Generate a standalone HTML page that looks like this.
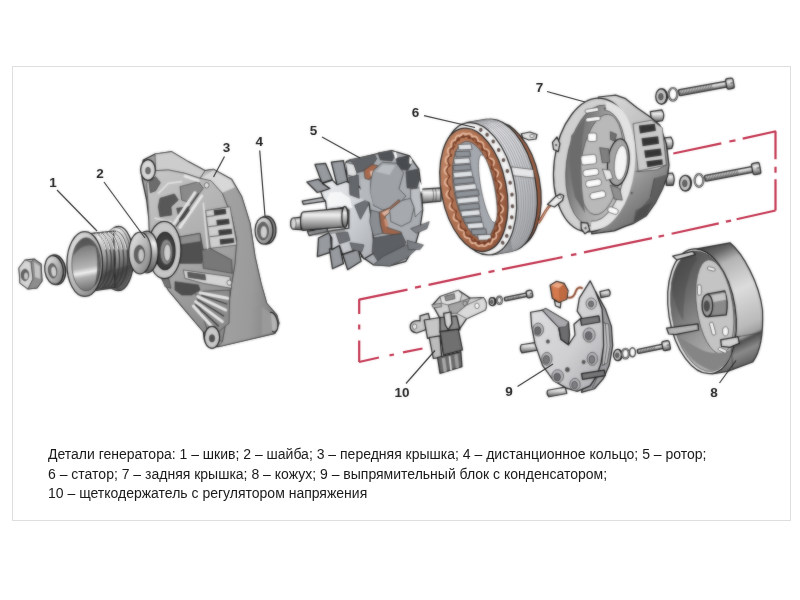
<!DOCTYPE html>
<html lang="ru">
<head>
<meta charset="utf-8">
<title>Детали генератора</title>
<style>
html,body{margin:0;padding:0;background:#fff;}
body{width:800px;height:600px;overflow:hidden;position:relative;font-family:"Liberation Sans",sans-serif;}
#frame{position:absolute;left:12px;top:66px;width:777px;height:453px;border:1px solid #dedede;background:#fff;}
#art{position:absolute;left:0;top:0;width:800px;height:600px;}
#cap{position:absolute;left:48px;top:445.2px;filter:blur(0.3px);width:720px;font-size:14px;line-height:19.6px;color:#1a1a1a;white-space:nowrap;}
.lb{font-family:"Liberation Sans",sans-serif;font-size:13.5px;font-weight:bold;fill:#1c1c1c;text-anchor:middle;}
.ld{stroke:#333;stroke-width:1.2;fill:none;}
.o{stroke:#202020;stroke-width:1.25;stroke-linejoin:round;}
.t{stroke:#3a3a3a;stroke-width:0.65;stroke-linejoin:round;}
.n{stroke:none;}
.z *{vector-effect:non-scaling-stroke;}
.red{stroke:#c43853;stroke-width:2.2;fill:none;}
</style>
</head>
<body>
<div id="frame"></div>
<svg id="art" viewBox="0 0 800 600" width="800" height="600">
<defs>
<filter id="soft" x="0" y="0" width="800" height="600" filterUnits="userSpaceOnUse" color-interpolation-filters="sRGB"><feGaussianBlur in="SourceGraphic" stdDeviation="0.8" result="b"/><feComposite in="SourceGraphic" in2="b" operator="arithmetic" k1="0" k2="0.45" k3="0.55" k4="0"/></filter>
<linearGradient id="gv" x1="0" y1="0" x2="0" y2="1"><stop offset="0" stop-color="#d8d8d8"/><stop offset="0.25" stop-color="#f2f2f2"/><stop offset="0.6" stop-color="#a8a8a8"/><stop offset="1" stop-color="#6e6e6e"/></linearGradient>
<linearGradient id="gh" x1="0" y1="0" x2="1" y2="0"><stop offset="0" stop-color="#e6e6e6"/><stop offset="0.5" stop-color="#b4b4b4"/><stop offset="1" stop-color="#808080"/></linearGradient>
<linearGradient id="gd" x1="0" y1="0" x2="1" y2="1"><stop offset="0" stop-color="#ededed"/><stop offset="0.5" stop-color="#b8b8b8"/><stop offset="1" stop-color="#7a7a7a"/></linearGradient>
<linearGradient id="gbore" x1="0" y1="0" x2="0" y2="1"><stop offset="0" stop-color="#5a5a5a"/><stop offset="0.45" stop-color="#8c8c8c"/><stop offset="0.62" stop-color="#e4e4e4"/><stop offset="0.8" stop-color="#a0a0a0"/><stop offset="1" stop-color="#787878"/></linearGradient>
<linearGradient id="gcyl" x1="0" y1="0" x2="0" y2="1"><stop offset="0" stop-color="#9a9a9a"/><stop offset="0.3" stop-color="#f0f0f0"/><stop offset="0.7" stop-color="#9c9c9c"/><stop offset="1" stop-color="#5c5c5c"/></linearGradient>

<filter id="soft2" x="0" y="0" width="800" height="600" filterUnits="userSpaceOnUse" color-interpolation-filters="sRGB"><feGaussianBlur in="SourceGraphic" stdDeviation="0.8" result="b"/><feComposite in="SourceGraphic" in2="b" operator="arithmetic" k1="0" k2="0.75" k3="0.25" k4="0"/></filter>

</defs>
<g filter="url(#soft)">

<!-- 10_left.svg -->
<!-- nut -->
<g>
<path class="o" fill="#b9b9b9" d="M19 268L25 260L34 259L41 264L42 281L37 288L28 289L20 283Z"/>
<path class="t" fill="#d6d6d6" d="M19 268L25 260L31 262L33 279L28 289L20 283Z"/>
<path class="t" fill="#8e8e8e" d="M31 262L34 259L41 264L42 281L37 288L28 289L33 279Z"/>
<path class="n" fill="#c4c4c4" d="M34 262L40 266L40.500 279L35 277Z"/>
<ellipse class="t" cx="25" cy="275" rx="3.800" ry="5.800" fill="#5e5e5e"/>
<ellipse class="n" cx="26" cy="276" rx="2" ry="3.600" fill="#c8c8c8"/>
</g>
<!-- washer -->
<g transform="rotate(-8 54.5 270)">
<ellipse class="o" cx="55.800" cy="270" rx="9.800" ry="15" fill="#7c7c7c"/>
<ellipse class="o" cx="54" cy="270" rx="9.200" ry="14.500" fill="url(#gd)"/>
<ellipse class="t" cx="52.500" cy="270.500" rx="4.200" ry="7.200" fill="#6a6a6a"/>
<ellipse class="n" cx="53.500" cy="271.500" rx="2.400" ry="5" fill="#d0d0d0"/>
</g>
<g class="z" transform="translate(60 220) scale(0.1375)">
<linearGradient id="plb" x1="0" y1="0" x2="0.35" y2="1"><stop offset="0" stop-color="#b8b8b8"/><stop offset="0.22" stop-color="#ededed"/><stop offset="0.55" stop-color="#a4a4a4"/><stop offset="0.85" stop-color="#4e4e4e"/><stop offset="1" stop-color="#6a6a6a"/></linearGradient>
<linearGradient id="plbore" x1="0" y1="0" x2="0.1" y2="1"><stop offset="0" stop-color="#5c5c5c"/><stop offset="0.3" stop-color="#8a8a8a"/><stop offset="0.6" stop-color="#b4b4b4"/><stop offset="0.7" stop-color="#efefef"/><stop offset="0.78" stop-color="#b0b0b0"/><stop offset="1" stop-color="#7a7a7a"/></linearGradient>
<ellipse class="o" cx="425" cy="280" rx="110" ry="233" fill="url(#plb)"/>
<ellipse class="t" cx="408" cy="282" rx="108" ry="228" fill="url(#plb)"/>
<path class="o" fill="url(#plb)" d="M200 100L390 80L400 490L220 520Z"/>
<path fill="none" stroke="#3e3e3e" stroke-width="1.3" d="M245 96 A95 205 0 0 1 257 505"/>
<path fill="none" stroke="#f6f6f6" stroke-width="1" d="M259 98 A95 205 0 0 1 333 215"/>
<path fill="none" stroke="#3e3e3e" stroke-width="1.3" d="M275 93 A95 205 0 0 1 287 502"/>
<path fill="none" stroke="#f6f6f6" stroke-width="1" d="M289 95 A95 205 0 0 1 363 215"/>
<path fill="none" stroke="#3e3e3e" stroke-width="1.3" d="M305 90 A95 205 0 0 1 317 499"/>
<path fill="none" stroke="#f6f6f6" stroke-width="1" d="M319 92 A95 205 0 0 1 393 215"/>
<path fill="none" stroke="#3e3e3e" stroke-width="1.3" d="M335 87 A95 205 0 0 1 347 496"/>
<path fill="none" stroke="#f6f6f6" stroke-width="1" d="M349 89 A95 205 0 0 1 423 215"/>
<path fill="none" stroke="#3e3e3e" stroke-width="1.3" d="M365 84 A95 205 0 0 1 377 493"/>
<path fill="none" stroke="#f6f6f6" stroke-width="1" d="M379 86 A95 205 0 0 1 453 215"/>
<path fill="none" stroke="#3e3e3e" stroke-width="1.3" d="M395 81 A95 205 0 0 1 407 490"/>
<path fill="none" stroke="#f6f6f6" stroke-width="1" d="M409 83 A95 205 0 0 1 483 215"/>
<path class="n" fill="#333" opacity="0.35" d="M330 380L500 330Q510 440 420 505L300 505Z"/>
<ellipse class="o" cx="180" cy="320" rx="130" ry="236" fill="url(#gd)"/>
<ellipse class="t" cx="190" cy="322" rx="104" ry="192" fill="url(#plbore)"/>
<path class="n" fill="#3c3c3c" opacity="0.75" d="M250 165Q300 250 290 380Q280 450 250 480Q275 400 272 300Q270 220 250 165Z"/>
<path class="n" fill="#444" opacity="0.55" d="M95 260Q110 150 190 132Q250 140 262 200Q180 150 95 260Z"/>
</g>
<!-- 20_front.svg -->
<g class="z" transform="translate(135 150) scale(0.33333)">
<linearGradient id="fp" x1="0" y1="0" x2="1" y2="0.15"><stop offset="0" stop-color="#c8c8c8"/><stop offset="0.25" stop-color="#a4a4a4"/><stop offset="0.75" stop-color="#9a9a9a"/><stop offset="1" stop-color="#858585"/></linearGradient>
<linearGradient id="ff" x1="0" y1="0" x2="0.4" y2="1"><stop offset="0" stop-color="#c8c8c8"/><stop offset="0.5" stop-color="#b0b0b0"/><stop offset="1" stop-color="#8c8c8c"/></linearGradient>
<!-- silhouette -->
<path class="o" fill="#a0a0a0" d="M18 60L25 30L60 12L110 5L160 35L210 62L235 58L290 88L320 140L345 220L360 320L378 400L395 460L425 495L432 520L420 550L250 590L225 590L208 570L205 545L150 480L100 420L60 350L45 300L42 210L35 150L22 90Z"/>
<!-- side panel -->
<path class="t" fill="url(#fp)" d="M195 85L210 62L235 58L290 88L320 140L345 220L360 320L378 400L395 460L425 495L432 520L420 550L250 590L262 575L270 530L280 470L290 400L300 340L305 270L290 200L262 130L228 92Z"/>
<path class="n" fill="#d8d8d8" d="M198 84L236 61L288 90L300 112L262 128L228 92Z"/>
<!-- top slope -->
<path class="t" fill="#cdcdcd" d="M60 12L110 5L160 35L210 62L195 85L150 70L100 60L62 62Z"/>
<!-- face -->
<path class="t" fill="url(#ff)" d="M35 100L62 62L100 60L150 70L195 85L228 92L262 130L290 200L305 270L300 340L290 400L280 470L270 530L262 575L235 560L205 545L150 480L100 420L60 350L45 300L42 210Z"/>
<!-- windows -->
<g class="t">
<path fill="#585858" d="M75 145L118 132L130 150L108 170L110 195L75 200L70 170Z"/>
<path fill="#6c6c6c" d="M42 95L62 80L76 98L62 122L46 128Z"/>
<path fill="#555" d="M125 175L160 170L165 190L135 215Z"/>
<path fill="#8a8a8a" d="M135 110L190 95L205 115L170 160L140 150Z"/>
<path fill="#505050" d="M128 262L195 250L205 300L200 340L135 340Z"/>
<path fill="#8e8e8e" d="M128 262L195 250L198 275L132 285Z"/>
<path fill="#4e4e4e" d="M120 395L190 405L195 420L170 435L140 435L120 420Z"/>
<path fill="#747474" d="M75 370L100 380L108 415L90 410Z"/>
<path fill="#cfcfcf" d="M212 182L285 170L306 285L226 295Z"/>
<path fill="#d4d4d4" d="M145 360L285 380L290 415L205 400L150 385Z"/>
<path fill="#5c5c5c" d="M158 367L210 374L212 390L160 382Z"/>
<path fill="#8c8c8c" d="M180 425L285 420L282 520L245 550L215 535Z"/>
<path fill="#787878" d="M200 300L225 295L290 330L292 370L205 355Z"/>
</g>
<!-- fins -->
<g class="n" fill="#3e3e3e">
<path d="M236 180L272 176L274 192L238 197Z"/>
<path d="M244 210L282 206L284 222L246 227Z"/>
<path d="M250 240L290 236L292 252L252 257Z"/>
<path d="M254 268L296 264L298 278L256 284Z"/>
</g>
<g stroke="#2e2e2e" stroke-width="0.7" fill="none">
<path d="M215 200L238 197M220 230L246 227M224 260L252 257"/>
</g>
<g stroke="#e6e6e6" stroke-width="3" stroke-linecap="round" fill="none">
<path d="M150 78L190 92"/><path d="M112 228L180 128"/><path d="M135 232L200 138"/>
<path d="M195 428L278 445"/><path d="M188 440L272 480"/><path d="M182 455L262 515"/><path d="M175 468L240 540"/>
</g>
<g stroke="#3c3c3c" stroke-width="1.3" stroke-linecap="round" fill="none">
<path d="M200 436L275 462"/><path d="M190 450L266 498"/><path d="M182 464L250 528"/>
<path d="M124 228L190 132"/>
</g>
<g stroke="#e0e0e0" stroke-width="1.6" stroke-linecap="round" fill="none">
<path d="M70 130L100 100L140 95"/><path d="M60 205L110 215"/><path d="M205 160L218 295"/>
</g>
<!-- hub -->
<ellipse class="o" cx="88" cy="300" rx="50" ry="86" fill="#c6c6c6"/>
<ellipse class="o" cx="90" cy="303" rx="30" ry="56" fill="#3e3e3e"/>
<ellipse class="t" cx="94" cy="306" rx="19" ry="38" fill="#888"/>
<ellipse class="t" cx="97" cy="308" rx="11" ry="26" fill="#cdcdcd"/>
<!-- ear top-left -->
<ellipse class="o" cx="39" cy="60" rx="22" ry="31" fill="#d8d8d8"/>
<ellipse class="t" cx="39" cy="62" rx="7" ry="10" fill="#707070"/>
<!-- small bolt holes -->
<ellipse class="t" cx="215" cy="106" rx="7" ry="8" fill="#e6e6e6"/>
<ellipse class="t" cx="283" cy="398" rx="7" ry="8" fill="#e6e6e6"/>
<!-- bottom boss -->
<ellipse class="o" cx="413" cy="517" rx="15" ry="30" fill="#b4b4b4" transform="rotate(-12 413 517)"/>
<path class="n" fill="#9a9a9a" d="M380 470L408 490L412 548L380 556Z"/>
<ellipse class="o" cx="231" cy="562" rx="23" ry="33" fill="#c8c8c8"/>
<ellipse class="t" cx="231" cy="565" rx="8" ry="11" fill="#505050"/>
</g>
<!-- spacer ring 4 -->
<g>
<ellipse class="o" cx="266.500" cy="230" rx="9.500" ry="14" fill="#828282"/>
<ellipse class="o" cx="264" cy="230.500" rx="9" ry="13.500" fill="url(#gd)"/>
<ellipse class="t" cx="263" cy="231" rx="5.500" ry="9" fill="#646464"/>
<ellipse class="n" cx="263.800" cy="232" rx="3.200" ry="6" fill="#cfcfcf"/>
</g>

<!-- 25_washer2.svg -->
<g class="z" transform="translate(60 220) scale(0.1375)">
<linearGradient id="w2s" x1="0" y1="0" x2="0" y2="1"><stop offset="0" stop-color="#8a8a8a"/><stop offset="0.3" stop-color="#f2f2f2"/><stop offset="0.6" stop-color="#a0a0a0"/><stop offset="1" stop-color="#5a5a5a"/></linearGradient>
<ellipse class="o" cx="632" cy="232" rx="82" ry="152" fill="url(#w2s)"/>
<path class="n" fill="url(#w2s)" d="M582 89H632V385H582Z"/>
<ellipse class="o" cx="582" cy="240" rx="82" ry="152" fill="url(#gd)"/>
<ellipse class="t" cx="578" cy="250" rx="38" ry="66" fill="#606060"/>
<ellipse class="n" cx="590" cy="256" rx="20" ry="46" fill="#c4c4c4"/>
</g>
<!-- 30_rotor.svg -->
<g class="z" transform="translate(280 140) scale(0.23324)">
<linearGradient id="fd" x1="0" y1="0" x2="1" y2="1"><stop offset="0" stop-color="#eceef0"/><stop offset="0.5" stop-color="#cfd2d6"/><stop offset="1" stop-color="#a9adb2"/></linearGradient>
<!-- right shaft -->
<path class="o" fill="url(#gcyl)" d="M590 212L690 205L690 262L590 272Z"/>
<path class="t" fill="none" d="M650 208A8 28 0 0 1 650 266M662 207A8 28 0 0 1 662 265"/>
<!-- body silhouette -->
<path class="o" fill="#a9adb2" d="M285 92L410 60L480 45L555 68L595 125L605 200L612 300L600 380L580 450L540 520L470 540L400 535L350 500L330 400L300 300L285 200Z"/>
<!-- blades (behind disc) -->
<g class="o" fill="#979ba0">
<path d="M150 105L195 100L225 170L180 185Z"/>
<path d="M220 95L272 88L292 185L245 195Z"/>
<path d="M115 180L165 168L215 210L160 225Z"/>
<path fill="#b9bcc0" d="M95 262L185 246L195 262L100 276Z"/>
<path fill="#a9acb0" d="M118 392L200 376L205 392L125 410Z"/>
<path d="M165 420L215 395L222 480L160 500Z"/>
<path d="M212 468L255 450L272 530L225 552Z"/>
<path fill="#94989d" d="M268 490L335 468L348 520L290 556Z"/>
</g>
<!-- fan disc -->
<path class="o" fill="url(#fd)" d="M300 185L285 178L245 192L225 172L182 186L214 208L175 222L185 250L195 262L200 300L270 290L295 300L295 378L205 392L222 420L222 470L255 452L268 490L335 468L360 510L410 480L400 420L390 330L380 260L340 200Z"/>
<path class="n" fill="#fff" opacity="0.7" d="M215 225L260 222L300 250L310 292L250 283L205 290L200 255Z"/>
<g class="t" fill="#6e7277">
<path d="M300 440L360 450L350 480L310 470Z"/>
<path d="M320 280L375 255L380 275L345 340Z"/>
<path d="M240 400L290 395L300 430L255 445Z"/>
</g>
<!-- claws -->
<path class="t" fill="#dcdee0" d="M280 95L318 105L330 140L325 160L290 150Z"/>
<path class="t" fill="#606368" d="M295 85L405 62L415 80L385 125L330 140L318 105Z"/>
<path class="t" fill="#64676c" d="M295 160L335 150L340 250L300 235Z"/>
<path class="t" fill="#505357" d="M420 55L475 45L492 70L480 90L430 85Z"/>
<path class="t" fill="#484b4f" d="M498 78L550 68L562 105L548 130L505 125Z"/>
<path class="t" fill="#4f5256" d="M540 135L590 125L598 170L585 210L545 205Z"/>
<path class="t" fill="#a8694d" d="M360 130L395 105L420 110L400 140L385 170L365 165Z"/>
<path class="n" fill="#e6c1b0" d="M385 135L398 130L402 150L390 158Z"/>
<path class="t" fill="#9ea2a7" d="M400 130L440 95L500 100L530 140L510 210L540 240L500 290L440 300L400 280L385 220L390 170Z"/>
<path class="n" fill="#b9bdc1" d="M410 135L440 105L495 108L470 150Z"/>
<path class="n" fill="#b5b9bd" d="M345 165L385 175L385 220L400 280L380 265L345 250Z"/>
<path class="t" fill="#a0664c" d="M425 310L470 290L510 255L520 270L480 300L450 330L460 375L520 395L520 410L440 400L430 360Z"/>
<path class="n" fill="#dcb4a0" d="M435 312L470 296L476 304L448 326Z"/><path class="n" fill="#c48e74" d="M445 340L458 336L466 372L452 372Z"/>
<path class="t" fill="#a6aaaf" d="M470 300L520 260L560 250L575 290L560 350L520 370L475 350Z"/>
<path class="t" fill="#8a8e93" d="M390 300L425 310L430 360L440 400L400 410L385 350Z"/>
<path class="t" fill="#5c5f64" d="M400 420L520 400L540 440L500 500L420 520L395 480Z"/>
<path class="t" fill="#74787d" d="M440 500L540 450L600 455L545 505L470 540L400 535Z"/>
<path class="t" fill="#7b7f84" d="M560 380L640 350L630 380L585 400Z"/>
<path class="t" fill="#7b7f84" d="M545 430L615 450L600 470L550 470Z"/>
<path class="t" fill="#bcbfc3" d="M560 210L600 205L610 300L580 330L575 290L560 250Z"/>
<path class="n" fill="#fff" d="M486 52L497 50L503 76L494 80Z"/><path class="n" fill="#fff" d="M556 72L566 84L562 104L554 100Z"/><path class="n" fill="#fff" d="M598 175L612 200L606 230L598 210Z"/>
<!-- left shaft -->
<path class="o" fill="url(#gcyl)" d="M55 335L100 330L100 385L55 382A12 24 0 0 1 55 335Z"/>
<ellipse class="t" cx="58" cy="358" rx="11" ry="23" fill="#d8d8d8"/>
<path class="o" fill="url(#gcyl)" d="M100 308L275 292L275 372L100 388A12 40 0 0 1 100 308Z"/>
<ellipse class="o" cx="278" cy="330" rx="13" ry="45" fill="url(#gcyl)"/>
<path class="n" fill="#666" opacity="0.5" d="M120 392L270 378L285 395L150 410Z"/>
</g>

<!-- 40_stator.svg -->
<g class="z" transform="translate(430 110) scale(0.25)">
<linearGradient id="stb" x1="0.2" y1="0" x2="0.9" y2="1"><stop offset="0" stop-color="#f0f0f2"/><stop offset="0.5" stop-color="#d2d3d6"/><stop offset="0.8" stop-color="#b0b1b5"/><stop offset="1" stop-color="#8c8d91"/></linearGradient>
<linearGradient id="cu" x1="0" y1="0" x2="1" y2="1"><stop offset="0" stop-color="#c58b6b"/><stop offset="0.5" stop-color="#a96a4b"/><stop offset="1" stop-color="#8a4f36"/></linearGradient>
<g transform="rotate(-11 197 315)">
<ellipse class="o" cx="297" cy="319" rx="143" ry="256" fill="url(#cu)"/>
<ellipse class="o" cx="281" cy="317" rx="143" ry="268" fill="url(#stb)"/>
<path class="n" fill="url(#stb)" d="M197 46 L281 48 L281 586 L197 584 Z"/>
<path class="o" fill="none" d="M197 46 L281 48 M197 584 L281 586"/>
<path fill="none" stroke="#8e8f94" stroke-width="0.7" d="M206 46 A143 268 0 0 1 206 584"/>
<path fill="none" stroke="#8e8f94" stroke-width="0.7" d="M216 46 A143 268 0 0 1 216 584"/>
<path fill="none" stroke="#8e8f94" stroke-width="0.7" d="M225 47 A143 268 0 0 1 225 585"/>
<path fill="none" stroke="#8e8f94" stroke-width="0.7" d="M234 47 A143 268 0 0 1 234 585"/>
<path fill="none" stroke="#8e8f94" stroke-width="0.7" d="M244 47 A143 268 0 0 1 244 585"/>
<path fill="none" stroke="#8e8f94" stroke-width="0.7" d="M253 47 A143 268 0 0 1 253 585"/>
<path fill="none" stroke="#8e8f94" stroke-width="0.7" d="M262 48 A143 268 0 0 1 262 586"/>
<path fill="none" stroke="#8e8f94" stroke-width="0.7" d="M272 48 A143 268 0 0 1 272 586"/>
<path class="t" fill="#e6e6e8" d="M338 253 l86 28 l-2 34 l-84 -26 Z"/>
<ellipse class="o" cx="197" cy="315" rx="143" ry="268" fill="#f1f1f2"/>
<ellipse class="o" cx="175" cy="315" rx="130" ry="250" fill="url(#cu)"/>
<ellipse class="t" cx="178" cy="317" rx="82" ry="198" fill="#a3a7ae"/>
<path class="t" fill="#e0e3e6" d="M147 125 l52 8 l0 22 l-52 -8 Z"/>
<path class="t" fill="#8f949b" d="M130 151 l58 8 l0 22 l-58 -8 Z"/>
<path class="t" fill="#e0e3e6" d="M119 178 l63 8 l0 22 l-63 -8 Z"/>
<path class="t" fill="#8f949b" d="M111 204 l69 8 l0 22 l-69 -8 Z"/>
<path class="t" fill="#e0e3e6" d="M106 231 l75 8 l0 22 l-75 -8 Z"/>
<path class="t" fill="#8f949b" d="M102 257 l81 8 l0 22 l-81 -8 Z"/>
<path class="t" fill="#e0e3e6" d="M101 284 l86 8 l0 22 l-86 -8 Z"/>
<path class="t" fill="#8f949b" d="M100 310 l92 8 l0 22 l-92 -8 Z"/>
<path class="t" fill="#e0e3e6" d="M101 336 l86 8 l0 22 l-86 -8 Z"/>
<path class="t" fill="#8f949b" d="M103 363 l81 8 l0 22 l-81 -8 Z"/>
<path class="t" fill="#e0e3e6" d="M107 389 l75 8 l0 22 l-75 -8 Z"/>
<path class="t" fill="#8f949b" d="M113 416 l69 8 l0 22 l-69 -8 Z"/>
<path class="t" fill="#e0e3e6" d="M122 442 l63 8 l0 22 l-63 -8 Z"/>
<path class="t" fill="#8f949b" d="M134 469 l58 8 l0 22 l-58 -8 Z"/>
<path class="t" fill="#e0e3e6" d="M155 495 l52 8 l0 22 l-52 -8 Z"/>
<ellipse class="t" cx="231" cy="321" rx="27" ry="138" fill="#fff"/>
<path fill="none" stroke="#6e3620" stroke-width="1.2" stroke-linecap="round" d="M265 293 Q289 315 265 337"/>
<path fill="none" stroke="#e8bca2" stroke-width="1.6" stroke-linecap="round" d="M277 299 Q297 315 277 331"/>
<path fill="none" stroke="#6e3620" stroke-width="1.2" stroke-linecap="round" d="M265 341 Q286 366 260 385"/>
<path fill="none" stroke="#e8bca2" stroke-width="1.6" stroke-linecap="round" d="M276 349 Q294 367 273 380"/>
<path fill="none" stroke="#6e3620" stroke-width="1.2" stroke-linecap="round" d="M260 387 Q278 414 250 430"/>
<path fill="none" stroke="#e8bca2" stroke-width="1.6" stroke-linecap="round" d="M270 396 Q286 416 263 427"/>
<path fill="none" stroke="#6e3620" stroke-width="1.2" stroke-linecap="round" d="M251 428 Q265 457 235 470"/>
<path fill="none" stroke="#e8bca2" stroke-width="1.6" stroke-linecap="round" d="M260 438 Q273 460 248 468"/>
<path fill="none" stroke="#6e3620" stroke-width="1.2" stroke-linecap="round" d="M239 463 Q248 494 216 501"/>
<path fill="none" stroke="#e8bca2" stroke-width="1.6" stroke-linecap="round" d="M246 474 Q255 498 229 502"/>
<path fill="none" stroke="#6e3620" stroke-width="1.2" stroke-linecap="round" d="M225 490 Q227 522 194 521"/>
<path fill="none" stroke="#e8bca2" stroke-width="1.6" stroke-linecap="round" d="M229 503 Q232 528 207 525"/>
<path fill="none" stroke="#6e3620" stroke-width="1.2" stroke-linecap="round" d="M211 509 Q202 541 172 529"/>
<path fill="none" stroke="#e8bca2" stroke-width="1.6" stroke-linecap="round" d="M211 523 Q206 548 182 537"/>
<path fill="none" stroke="#6e3620" stroke-width="1.2" stroke-linecap="round" d="M197 523 Q175 547 153 523"/>
<path fill="none" stroke="#e8bca2" stroke-width="1.6" stroke-linecap="round" d="M191 535 Q175 555 159 535"/>
<path fill="none" stroke="#6e3620" stroke-width="1.2" stroke-linecap="round" d="M178 529 Q148 541 139 509"/>
<path fill="none" stroke="#e8bca2" stroke-width="1.6" stroke-linecap="round" d="M168 537 Q144 548 139 523"/>
<path fill="none" stroke="#6e3620" stroke-width="1.2" stroke-linecap="round" d="M156 521 Q123 522 125 490"/>
<path fill="none" stroke="#e8bca2" stroke-width="1.6" stroke-linecap="round" d="M143 525 Q118 528 121 503"/>
<path fill="none" stroke="#6e3620" stroke-width="1.2" stroke-linecap="round" d="M134 501 Q102 494 111 463"/>
<path fill="none" stroke="#e8bca2" stroke-width="1.6" stroke-linecap="round" d="M121 502 Q95 498 104 474"/>
<path fill="none" stroke="#6e3620" stroke-width="1.2" stroke-linecap="round" d="M115 470 Q85 457 99 428"/>
<path fill="none" stroke="#e8bca2" stroke-width="1.6" stroke-linecap="round" d="M102 468 Q77 460 90 438"/>
<path fill="none" stroke="#6e3620" stroke-width="1.2" stroke-linecap="round" d="M100 430 Q72 414 90 387"/>
<path fill="none" stroke="#e8bca2" stroke-width="1.6" stroke-linecap="round" d="M87 427 Q64 416 80 396"/>
<path fill="none" stroke="#6e3620" stroke-width="1.2" stroke-linecap="round" d="M90 385 Q64 366 85 341"/>
<path fill="none" stroke="#e8bca2" stroke-width="1.6" stroke-linecap="round" d="M77 380 Q56 367 74 349"/>
<path fill="none" stroke="#6e3620" stroke-width="1.2" stroke-linecap="round" d="M85 337 Q61 315 85 293"/>
<path fill="none" stroke="#e8bca2" stroke-width="1.6" stroke-linecap="round" d="M73 331 Q53 315 73 299"/>
<path fill="none" stroke="#6e3620" stroke-width="1.2" stroke-linecap="round" d="M85 289 Q64 264 90 245"/>
<path fill="none" stroke="#e8bca2" stroke-width="1.6" stroke-linecap="round" d="M74 281 Q56 263 77 250"/>
<path fill="none" stroke="#6e3620" stroke-width="1.2" stroke-linecap="round" d="M90 243 Q72 216 100 200"/>
<path fill="none" stroke="#e8bca2" stroke-width="1.6" stroke-linecap="round" d="M80 234 Q64 214 87 203"/>
<path fill="none" stroke="#6e3620" stroke-width="1.2" stroke-linecap="round" d="M99 202 Q85 173 115 160"/>
<path fill="none" stroke="#e8bca2" stroke-width="1.6" stroke-linecap="round" d="M90 192 Q77 170 102 162"/>
<path fill="none" stroke="#6e3620" stroke-width="1.2" stroke-linecap="round" d="M111 167 Q102 136 134 129"/>
<path fill="none" stroke="#e8bca2" stroke-width="1.6" stroke-linecap="round" d="M104 156 Q95 132 121 128"/>
<path fill="none" stroke="#6e3620" stroke-width="1.2" stroke-linecap="round" d="M125 140 Q123 108 156 109"/>
<path fill="none" stroke="#e8bca2" stroke-width="1.6" stroke-linecap="round" d="M121 127 Q118 102 143 105"/>
<path fill="none" stroke="#6e3620" stroke-width="1.2" stroke-linecap="round" d="M139 121 Q148 89 178 101"/>
<path fill="none" stroke="#e8bca2" stroke-width="1.6" stroke-linecap="round" d="M139 107 Q144 82 168 93"/>
<path fill="none" stroke="#6e3620" stroke-width="1.2" stroke-linecap="round" d="M153 107 Q175 83 197 107"/>
<path fill="none" stroke="#e8bca2" stroke-width="1.6" stroke-linecap="round" d="M159 95 Q175 75 191 95"/>
<path fill="none" stroke="#6e3620" stroke-width="1.2" stroke-linecap="round" d="M172 101 Q202 89 211 121"/>
<path fill="none" stroke="#e8bca2" stroke-width="1.6" stroke-linecap="round" d="M182 93 Q206 82 211 107"/>
<path fill="none" stroke="#6e3620" stroke-width="1.2" stroke-linecap="round" d="M194 109 Q227 108 225 140"/>
<path fill="none" stroke="#e8bca2" stroke-width="1.6" stroke-linecap="round" d="M207 105 Q232 102 229 127"/>
<path fill="none" stroke="#6e3620" stroke-width="1.2" stroke-linecap="round" d="M216 129 Q248 136 239 167"/>
<path fill="none" stroke="#e8bca2" stroke-width="1.6" stroke-linecap="round" d="M229 128 Q255 132 246 156"/>
<path fill="none" stroke="#6e3620" stroke-width="1.2" stroke-linecap="round" d="M235 160 Q265 173 251 202"/>
<path fill="none" stroke="#e8bca2" stroke-width="1.6" stroke-linecap="round" d="M248 162 Q273 170 260 192"/>
<path fill="none" stroke="#6e3620" stroke-width="1.2" stroke-linecap="round" d="M250 200 Q278 216 260 243"/>
<path fill="none" stroke="#e8bca2" stroke-width="1.6" stroke-linecap="round" d="M263 203 Q286 214 270 234"/>
<path fill="none" stroke="#6e3620" stroke-width="1.2" stroke-linecap="round" d="M260 245 Q286 264 265 289"/>
<path fill="none" stroke="#e8bca2" stroke-width="1.6" stroke-linecap="round" d="M273 250 Q294 263 276 281"/>
<ellipse class="n" cx="248" cy="85" rx="7" ry="8" fill="#5a4a44"/>
<ellipse class="n" cx="269" cy="109" rx="7" ry="8" fill="#5a4a44"/>
<ellipse class="n" cx="288" cy="140" rx="7" ry="8" fill="#5a4a44"/>
<ellipse class="n" cx="303" cy="178" rx="7" ry="8" fill="#5a4a44"/>
<ellipse class="n" cx="314" cy="221" rx="7" ry="8" fill="#5a4a44"/>
<ellipse class="n" cx="321" cy="267" rx="7" ry="8" fill="#5a4a44"/>
<ellipse class="n" cx="323" cy="315" rx="7" ry="8" fill="#5a4a44"/>
<ellipse class="n" cx="321" cy="363" rx="7" ry="8" fill="#5a4a44"/>
<ellipse class="n" cx="314" cy="409" rx="7" ry="8" fill="#5a4a44"/>
<ellipse class="n" cx="303" cy="452" rx="7" ry="8" fill="#5a4a44"/>
<ellipse class="n" cx="288" cy="490" rx="7" ry="8" fill="#5a4a44"/>
<ellipse class="n" cx="269" cy="521" rx="7" ry="8" fill="#5a4a44"/>
<ellipse class="n" cx="248" cy="545" rx="7" ry="8" fill="#5a4a44"/>
</g>
</g>
<!-- 50_rear.svg -->
<g class="z" transform="translate(545 85) scale(0.26667)">
<linearGradient id="rb" x1="0.2" y1="0" x2="0.7" y2="1"><stop offset="0" stop-color="#dadada"/><stop offset="0.45" stop-color="#b8b8b8"/><stop offset="0.7" stop-color="#8e8e8e"/><stop offset="1" stop-color="#5e5e5e"/></linearGradient>
<linearGradient id="ri" x1="0" y1="0" x2="1" y2="0.25"><stop offset="0" stop-color="#666"/><stop offset="0.3" stop-color="#808080"/><stop offset="0.6" stop-color="#a8a8a8"/><stop offset="1" stop-color="#c0c0c0"/></linearGradient>
<!-- studs -->
<path class="o" fill="url(#gcyl)" d="M395 100L438 93Q452 112 440 134L400 140Z"/>
<path class="o" fill="url(#gcyl)" d="M435 200L472 195Q486 215 475 238L440 243Z"/>
<path class="o" fill="url(#gcyl)" d="M452 332L478 330Q490 352 480 376L455 376Z"/>
<!-- body outer -->
<path class="o" fill="url(#rb)" d="M200 45L265 38L300 50L345 85L395 120L430 150L455 220L465 300L460 340L440 390L415 440L380 490L330 520L300 530L260 547L175 558L200 300Z"/>
<path class="n" fill="#555" opacity="0.75" d="M410 350L460 335L440 390L415 440L380 490L330 520L345 480L395 420Z"/>
<path class="n" fill="#444" opacity="0.6" d="M340 470L400 440L380 490L330 520Z"/>
<!-- fins block -->
<path class="t" fill="#cacaca" d="M330 145L400 132L440 160L455 300L420 318L350 325Z"/>
<g class="n" fill="#353535">
<path d="M352 152L412 145L416 172L356 182Z"/>
<path d="M362 200L424 192L428 220L366 230Z"/>
<path d="M372 246L434 238L438 264L376 274Z"/>
<path d="M380 286L440 278L442 298L384 308Z"/>
</g>
<path class="t" fill="none" d="M340 325L455 300M395 420L410 350"/>
<!-- front flange -->
<g transform="rotate(7 180 300)">
<ellipse class="o" cx="182" cy="300" rx="148" ry="252" fill="#d0d0d0"/>
<ellipse class="t" cx="198" cy="300" rx="118" ry="228" fill="url(#ri)"/>
<path fill="none" stroke="#e2e2e2" stroke-width="9" d="M200 74A120 226 0 0 1 200 526"/>
<path fill="none" stroke="#3a3a3a" stroke-width="0.7" d="M198 90A103 210 0 0 1 198 510"/>
</g>
<!-- lugs -->
<path class="o" fill="#d4d4d4" d="M28 215L45 195L56 220L50 250L32 242Z"/>
<path class="o" fill="#d4d4d4" d="M135 515L160 518L168 545L150 558L136 540Z"/>
<ellipse class="n" cx="42" cy="225" rx="4" ry="5" fill="#555"/>
<ellipse class="n" cx="152" cy="537" rx="4" ry="5" fill="#555"/>
<ellipse class="n" cx="225" cy="88" rx="4" ry="5" fill="#555"/>
<ellipse class="n" cx="325" cy="405" rx="4" ry="5" fill="#555"/>
<!-- back wall -->
<ellipse class="t" cx="212" cy="298" rx="78" ry="190" fill="#b9b9b9" transform="rotate(8 212 298)"/>
<path class="n" fill="#6c6c6c" d="M98 190Q82 300 112 420L150 480Q122 300 150 125Z"/>
<!-- slots -->
<g class="t" fill="#fbfbfb">
<rect x="150" y="88" width="52" height="14" rx="7" transform="rotate(-10 176 95)"/>
<rect x="152" y="120" width="56" height="16" rx="8" transform="rotate(-8 180 128)"/>
<rect x="160" y="180" width="34" height="32" rx="8"/>
<rect x="135" y="262" width="58" height="36" rx="10" transform="rotate(-6 164 280)"/>
<rect x="142" y="315" width="60" height="26" rx="12" transform="rotate(-8 172 328)"/>
<rect x="152" y="355" width="60" height="26" rx="12" transform="rotate(-10 182 368)"/>
<rect x="168" y="400" width="60" height="26" rx="12" transform="rotate(-12 198 413)"/>
<rect x="235" y="460" width="40" height="22" rx="10" transform="rotate(20 255 471)"/>
</g>
<!-- hub -->
<ellipse class="o" cx="275" cy="290" rx="40" ry="88" fill="#a4a4a4" transform="rotate(6 275 290)"/>
<ellipse class="t" cx="284" cy="292" rx="24" ry="66" fill="#f4f4f4" transform="rotate(6 284 292)"/>
<path class="t" fill="#808080" d="M205 235L240 240L242 290L215 292Z"/>
<path class="t" fill="#e8e8e8" d="M215 315L245 320L255 350L230 358Z"/>
<path class="t" fill="#909090" d="M245 375L280 388L290 432L260 428Z"/>
<path class="t" fill="#707070" d="M245 175L268 185L263 210L246 205Z"/>
</g>

<!-- 55_wires.svg -->
<g class="z" transform="translate(430 110) scale(0.25)">
<path fill="none" stroke="#8a4a2e" stroke-width="2.8" d="M432 452C452 432 458 398 490 372"/>
<path fill="none" stroke="#d2a088" stroke-width="1" d="M434 450C454 430 460 396 492 370"/>
<path class="o" fill="#ededed" d="M470 378L500 348L520 336L535 342L530 362L498 388Z"/>
<ellipse class="t" cx="518" cy="348" rx="8" ry="6" fill="#fff"/>
<path class="o" fill="#e4e4e4" d="M365 95L400 88L428 98L424 116L395 120L370 110Z"/>
<ellipse class="t" cx="408" cy="104" rx="9" ry="6" fill="#fff"/>
</g>
<!-- 60_bolts.svg -->
<g>
<ellipse class="o" cx="662.0" cy="96.4" rx="5.5" ry="7.6" fill="#8a8a8a"/>
<ellipse class="o" cx="661.2" cy="96.4" rx="5.5" ry="7.6" fill="#c9c9c9"/>
<ellipse class="t" cx="660.9" cy="96.7" rx="2.3" ry="3.4" fill="#666"/>
<ellipse cx="673.0" cy="94.3" rx="4.4" ry="6.3" fill="#fff" stroke="#3a3a3a" stroke-width="2.2"/>
<ellipse cx="673.0" cy="94.3" rx="4.4" ry="6.3" fill="none" stroke="#bbb" stroke-width="0.8"/>
<g transform="translate(679.0 92.8) rotate(-10.34)">
<rect class="o" x="0" y="-3.0" width="48.5" height="6.0" rx="1" fill="url(#gcyl)"/>
<path d="M1.0 -3.0L1.8 3.0M2.6 -3.0L3.4 3.0M4.2 -3.0L5.0 3.0M5.8 -3.0L6.6 3.0M7.4 -3.0L8.2 3.0M9.0 -3.0L9.8 3.0M10.6 -3.0L11.4 3.0M12.2 -3.0L13.0 3.0M13.8 -3.0L14.6 3.0M15.4 -3.0L16.2 3.0M17.0 -3.0L17.8 3.0M18.6 -3.0L19.4 3.0M20.2 -3.0L21.0 3.0M21.8 -3.0L22.6 3.0M23.4 -3.0L24.2 3.0M25.0 -3.0L25.8 3.0M26.6 -3.0L27.4 3.0M28.2 -3.0L29.0 3.0M29.8 -3.0L30.6 3.0M31.4 -3.0L32.2 3.0M33.0 -3.0L33.8 3.0" stroke="#555" stroke-width="0.6" fill="none"/>
<rect class="o" x="48.0" y="-5.2" width="7.5" height="10.5" rx="2" fill="url(#gcyl)"/>
<path d="M52.2 -0.3H56.0" stroke="#444" stroke-width="0.8"/>
</g>
<ellipse class="o" cx="685.9" cy="183.1" rx="5.6" ry="7.8" fill="#8a8a8a"/>
<ellipse class="o" cx="685.1" cy="183.1" rx="5.6" ry="7.8" fill="#c9c9c9"/>
<ellipse class="t" cx="684.8" cy="183.4" rx="2.3" ry="3.5" fill="#666"/>
<ellipse cx="699.0" cy="180.5" rx="4.4" ry="6.3" fill="#fff" stroke="#3a3a3a" stroke-width="2.2"/>
<ellipse cx="699.0" cy="180.5" rx="4.4" ry="6.3" fill="none" stroke="#bbb" stroke-width="0.8"/>
<g transform="translate(705.0 178.4) rotate(-10.80)">
<rect class="o" x="0" y="-2.9" width="48.6" height="5.8" rx="1" fill="url(#gcyl)"/>
<path d="M1.0 -2.9L1.8 2.9M2.6 -2.9L3.4 2.9M4.2 -2.9L5.0 2.9M5.8 -2.9L6.6 2.9M7.4 -2.9L8.2 2.9M9.0 -2.9L9.8 2.9M10.6 -2.9L11.4 2.9M12.2 -2.9L13.0 2.9M13.8 -2.9L14.6 2.9M15.4 -2.9L16.2 2.9M17.0 -2.9L17.8 2.9M18.6 -2.9L19.4 2.9M20.2 -2.9L21.0 2.9M21.8 -2.9L22.6 2.9M23.4 -2.9L24.2 2.9M25.0 -2.9L25.8 2.9M26.6 -2.9L27.4 2.9M28.2 -2.9L29.0 2.9M29.8 -2.9L30.6 2.9M31.4 -2.9L32.2 2.9M33.0 -2.9L33.8 2.9" stroke="#555" stroke-width="0.6" fill="none"/>
<rect class="o" x="48.1" y="-5.8" width="8.0" height="11.5" rx="2" fill="url(#gcyl)"/>
<path d="M52.6 -0.3H56.6" stroke="#444" stroke-width="0.8"/>
</g>
<ellipse class="o" cx="618.3" cy="355.0" rx="4.0" ry="5.6" fill="#8a8a8a"/>
<ellipse class="o" cx="617.5" cy="355.0" rx="4.0" ry="5.6" fill="#c9c9c9"/>
<ellipse class="t" cx="617.2" cy="355.3" rx="1.7" ry="2.5" fill="#666"/>
<ellipse cx="625.5" cy="353.6" rx="3.4" ry="4.8" fill="#fff" stroke="#3a3a3a" stroke-width="2.2"/>
<ellipse cx="625.5" cy="353.6" rx="3.4" ry="4.8" fill="none" stroke="#bbb" stroke-width="0.8"/>
<g transform="translate(637.5 351.6) rotate(-11.74)">
<rect class="o" x="0" y="-2.1" width="26.0" height="4.2" rx="1" fill="url(#gcyl)"/>
<path d="M1.0 -2.1L1.8 2.1M2.6 -2.1L3.4 2.1M4.2 -2.1L5.0 2.1M5.8 -2.1L6.6 2.1M7.4 -2.1L8.2 2.1M9.0 -2.1L9.8 2.1M10.6 -2.1L11.4 2.1M12.2 -2.1L13.0 2.1M13.8 -2.1L14.6 2.1M15.4 -2.1L16.2 2.1M17.0 -2.1L17.8 2.1" stroke="#555" stroke-width="0.6" fill="none"/>
<rect class="o" x="25.5" y="-4.8" width="7.5" height="9.5" rx="2" fill="url(#gcyl)"/>
<path d="M29.8 -0.3H33.5" stroke="#444" stroke-width="0.8"/>
</g>
<ellipse cx="632.5" cy="352.3" rx="3" ry="4.5" fill="#fff" stroke="#444" stroke-width="1.5"/>
<ellipse class="o" cx="492.8" cy="301.6" rx="2.9" ry="4.0" fill="#8a8a8a"/>
<ellipse class="o" cx="492.0" cy="301.6" rx="2.9" ry="4.0" fill="#c9c9c9"/>
<ellipse class="t" cx="491.7" cy="301.9" rx="1.2" ry="1.8" fill="#666"/>
<ellipse cx="499.4" cy="300.3" rx="2.5" ry="3.6" fill="#fff" stroke="#3a3a3a" stroke-width="2.2"/>
<ellipse cx="499.4" cy="300.3" rx="2.5" ry="3.6" fill="none" stroke="#bbb" stroke-width="0.8"/>
<g transform="translate(504.5 299.3) rotate(-11.80)">
<rect class="o" x="0" y="-1.8" width="23.0" height="3.6" rx="1" fill="url(#gcyl)"/>
<path d="M1.0 -1.8L1.8 1.8M2.6 -1.8L3.4 1.8M4.2 -1.8L5.0 1.8M5.8 -1.8L6.6 1.8M7.4 -1.8L8.2 1.8M9.0 -1.8L9.8 1.8M10.6 -1.8L11.4 1.8M12.2 -1.8L13.0 1.8M13.8 -1.8L14.6 1.8M15.4 -1.8L16.2 1.8" stroke="#555" stroke-width="0.6" fill="none"/>
<rect class="o" x="22.5" y="-3.8" width="6.0" height="7.5" rx="2" fill="url(#gcyl)"/>
<path d="M26.0 -0.3H29.0" stroke="#444" stroke-width="0.8"/>
</g>
</g>
<!-- 70_reg.svg -->
<g class="z" transform="translate(400 280) scale(0.16667)">
<!-- upper bracket -->
<path class="o" fill="#cfcfcf" d="M195 150L240 100L350 62L420 108L500 105Q530 140 512 180L400 232L360 290L300 300L240 230Z"/>
<path class="t" fill="#e2e2e2" d="M240 100L350 62L372 85L360 130L290 150L250 140Z"/>
<path class="t" fill="#8c8c8c" d="M268 98L325 82L330 112L275 125Z"/>
<path class="t" fill="#a4a4a4" d="M290 150L360 130L420 108L400 150L340 200L300 200Z"/>
<path class="t" fill="#dadada" d="M340 200L400 150L500 105Q530 140 512 180L400 232Z"/>
<ellipse class="t" cx="462" cy="155" rx="13" ry="17" fill="#fff"/>
<ellipse class="t" cx="390" cy="140" rx="12" ry="14" fill="#b8b8b8"/>
<path class="t" fill="#b0b0b0" d="M190 148L245 140L250 160L200 168Z"/>
<!-- left ear -->
<path class="o" fill="#c8c8c8" d="M120 215L170 200L180 240L150 300L100 318Q55 310 62 270Q75 240 120 245Z"/>
<ellipse class="t" cx="88" cy="280" rx="13" ry="16" fill="#eee"/>
<!-- body -->
<path class="o" fill="#c6c6c6" d="M145 240L240 225L250 340L165 350Z"/>
<path class="o" fill="#bcbcbc" d="M175 345L240 335L250 465L200 470Z"/>
<path class="o" fill="#8a8a8a" d="M240 225L340 215L360 300L350 296L240 312Z"/>
<path class="o" fill="#707070" d="M240 310L350 295L375 420L260 450Z"/>
<path class="o" fill="#6a6a6a" d="M225 465L365 430L372 520L240 560Z"/>
<path class="n" fill="#a8a8a8" d="M250 470L270 465L282 548L262 553Z"/>
<path class="n" fill="#e0e0e0" d="M292 458L302 456L312 540L302 543Z"/>
<path class="n" fill="#9c9c9c" d="M325 448L345 443L355 525L335 530Z"/>
<!-- clip -->
<path class="o" fill="#d4d4d4" d="M262 200L305 192L312 260L290 300L272 270Z"/>
</g>

<!-- 72_rect.svg -->
<g class="z" transform="translate(510 270) scale(0.21667)">
<linearGradient id="pl" x1="0" y1="0" x2="1" y2="1"><stop offset="0" stop-color="#e2e2e4"/><stop offset="0.6" stop-color="#cfcfd2"/><stop offset="1" stop-color="#a8a8ac"/></linearGradient>
<!-- studs -->
<path class="o" fill="url(#gcyl)" d="M52 345L135 332L140 368L55 383Q42 365 52 345Z"/>
<path class="o" fill="url(#gcyl)" d="M175 555L255 540L262 570L180 585Q165 570 175 555Z"/>
<path class="o" fill="url(#gcyl)" d="M415 100L455 90Q468 105 458 120L420 128Z"/>
<!-- back plates right -->
<path class="o" fill="#9c9ca0" d="M395 100L440 180L468 260L474 350L458 440L432 500L390 548L330 565L340 520L400 470L420 350L400 220Z"/>
<path class="t" fill="#c4c4c8" d="M420 240L455 250L462 350L448 430L425 440L432 350Z"/>
<path class="t" fill="none" d="M440 245L448 350L435 440M410 480L380 545"/>
<!-- main plate -->
<path class="o" fill="url(#pl)" d="M95 195L150 185L225 265L235 320L270 345L300 300L295 250L330 220L310 190L320 130L370 50L395 100L425 180L430 260L432 350L420 430L400 490L370 535L310 560L260 545L200 510L150 440L115 340L100 260Z"/>
<!-- notch wall -->
<path class="o" fill="#6d6d70" d="M150 185L165 178L270 240L275 300L270 345L235 320L225 265Z"/>
<path class="t" fill="#a9a9ad" d="M150 185L165 178L270 240L258 262L225 265Z"/>
<!-- clamp bars -->
<path class="o" fill="#77777a" d="M325 225L410 212L415 240L330 255Z"/>
<path class="o" fill="#77777a" d="M330 478L435 462L440 488L335 505Z"/>
<!-- diodes -->
<g class="t">
<ellipse cx="130" cy="275" rx="25" ry="30" fill="#b4b4b8"/><ellipse cx="128" cy="280" rx="14" ry="18" fill="#6c6c70"/>
<ellipse cx="170" cy="410" rx="24" ry="30" fill="#b4b4b8"/><ellipse cx="168" cy="414" rx="14" ry="19" fill="#77777a"/>
<ellipse cx="220" cy="490" rx="27" ry="30" fill="#b4b4b8"/><ellipse cx="218" cy="494" rx="15" ry="18" fill="#6c6c70"/>
<ellipse cx="300" cy="528" rx="24" ry="28" fill="#b4b4b8"/><ellipse cx="298" cy="531" rx="13" ry="17" fill="#808084"/>
<ellipse cx="365" cy="300" rx="28" ry="33" fill="#b4b4b8"/><ellipse cx="363" cy="304" rx="15" ry="19" fill="#6c6c70"/>
<ellipse cx="380" cy="410" rx="24" ry="30" fill="#b4b4b8"/><ellipse cx="378" cy="413" rx="13" ry="18" fill="#808084"/>
<ellipse cx="375" cy="155" rx="24" ry="26" fill="#c4c4c8"/><ellipse cx="374" cy="157" rx="12" ry="14" fill="#77777a"/>
<ellipse cx="175" cy="330" rx="7" ry="8" fill="#555"/><ellipse cx="265" cy="460" rx="9" ry="10" fill="#555"/><ellipse cx="340" cy="425" rx="7" ry="8" fill="#555"/>
</g>
<!-- capacitor -->
<path fill="none" stroke="#8a4326" stroke-width="2" d="M262 125C290 135 300 115 305 95C310 80 325 78 335 86"/>
<path class="o" fill="#e8e8e8" d="M205 140L235 150L232 175L210 165Z"/>
<path class="o" fill="#d47a4e" d="M185 70L215 52L250 62L268 95L262 135L225 150L195 130Z"/>
<path class="n" fill="#eba683" d="M190 72L215 56L248 66L225 84Z"/>
<path class="n" fill="#c06a42" d="M225 84L248 66L266 96L260 134L228 148Z"/>
</g>

<!-- 74_cover.svg -->
<g class="z" transform="translate(650 230) scale(0.26667)">
<linearGradient id="cvo" x1="0.3" y1="0" x2="0.55" y2="1"><stop offset="0" stop-color="#4a4a4a"/><stop offset="0.08" stop-color="#686868"/><stop offset="0.18" stop-color="#b4b4b4"/><stop offset="0.42" stop-color="#dcdcdc"/><stop offset="0.7" stop-color="#bababa"/><stop offset="0.775" stop-color="#a0a0a0"/><stop offset="0.8" stop-color="#505050"/><stop offset="0.88" stop-color="#8a8a8a"/><stop offset="1" stop-color="#5a5a5a"/></linearGradient>
<linearGradient id="cvi" x1="0.2" y1="0" x2="0.6" y2="1"><stop offset="0" stop-color="#484848"/><stop offset="0.35" stop-color="#6e6e6e"/><stop offset="0.65" stop-color="#989898"/><stop offset="1" stop-color="#bcbcbc"/></linearGradient>
<!-- outer wall -->
<path class="o" fill="url(#cvo)" d="M160 74L300 48C350 90 410 200 422 300C426 400 408 465 385 495L290 530L232 540L300 300Z"/>
<!-- front opening -->
<g transform="rotate(-9 195 305)">
<ellipse class="o" cx="195" cy="305" rx="125" ry="236" fill="#e4e4e4"/>
<ellipse class="t" cx="199" cy="305" rx="118" ry="228" fill="url(#cvi)"/>
</g>
<!-- back wall -->
<ellipse class="t" cx="243" cy="288" rx="68" ry="178" fill="#c4c4c4" transform="rotate(-8 243 288)"/>
<path class="n" fill="#858585" d="M105 400Q150 505 235 528Q300 510 308 445Q250 478 185 445Q140 420 105 400Z"/>
<path class="n" fill="#3c3c3c" opacity="0.3" d="M78 200Q90 120 160 90L178 108Q125 180 125 340Q95 300 78 200Z"/>
<!-- slots -->
<g class="t" fill="#f6f6f6">
<rect x="215" y="140" width="30" height="12" rx="6" transform="rotate(15 230 146)"/>
<rect x="178" y="205" width="14" height="40" rx="7"/>
<rect x="228" y="345" width="14" height="50" rx="7" transform="rotate(-15 235 370)"/>
<ellipse cx="283" cy="380" rx="11" ry="17"/>
<rect x="255" y="445" width="34" height="12" rx="6" transform="rotate(25 272 451)"/>
</g>
<!-- hub -->
<path class="o" fill="#8a8a8a" d="M215 240L280 228Q296 270 286 318L220 325Z"/>
<path class="n" fill="#c4c4c4" d="M225 246L282 235L286 262L228 272Z"/>
<ellipse class="o" cx="215" cy="283" rx="20" ry="42" fill="#9a9a9a"/>
<ellipse class="t" cx="213" cy="285" rx="10" ry="20" fill="#4e4e4e"/>
<!-- tabs -->
<path class="o" fill="#b4b4b4" d="M62 368L180 352L182 375L95 392L70 390Z"/>
<path class="o" fill="#d2d2d2" d="M265 412L330 400L335 425L300 440L268 436Z"/>
<path class="o" fill="#d8d8d8" d="M85 98L160 80L170 92L100 112Z"/>
<path class="t" fill="none" d="M330 400L420 385M305 440L310 522"/>
</g>

</g>
<g filter="url(#soft2)">

<!-- 80_red.svg -->
<g class="red">
<path d="M673.3 153.5L721.3 143.3M729.3 141.5L735.5 140.3M742.7 138.6L776 131.3"/>
<path d="M775.5 131.3V159.3M775.5 166.8V172.7M775.5 179.3V210.5"/>
<path d="M359 299.6L407.5 289.6M415 287.6L421 286.4M428.5 284.8L481 273.7M488.5 272.1L494.5 270.9M502 269.3L562.5 257.2M571 255.2L576.4 254.1M584 252.4L652 238.2M658.6 236.6L664.1 235.5M671.6 233.8L718.8 223.4M725.9 221.7L731.1 220.6M736.6 219.3L775.5 210.5"/>
<path d="M359.2 299V314M359.2 324.5V329.6M359.2 340.4V362"/>
<path d="M359 362L379 357.5M389.5 355.4L394 354.5M403 352.4L422.5 348.5"/>
</g>

<!-- 90_labels.svg -->
<g class="ld">
<path d="M57 190L97 231"/><path d="M104 182L145 238"/><path d="M224.500 156.500L213.500 177"/><path d="M259.700 150.500L265 216"/>
<path d="M322 137L360 158"/><path d="M424 115.700L475 127.500"/><path d="M547 91.5L585 102"/>
<path d="M406 383.5L435 350.5"/><path d="M517.5 386.5L553 364"/><path d="M719.5 383L736 360.5"/>
</g>
<text class="lb" x="53" y="187">1</text>
<text class="lb" x="100" y="178">2</text>
<text class="lb" x="226.5" y="152">3</text>
<text class="lb" x="259.2" y="146.2">4</text>
<text class="lb" x="313.5" y="135">5</text>
<text class="lb" x="415.5" y="117">6</text>
<text class="lb" x="539.5" y="92">7</text>
<text class="lb" x="714" y="397">8</text>
<text class="lb" x="509" y="396">9</text>
<text class="lb" x="402" y="397">10</text>

</g>
</svg>
<div id="cap">Детали генератора: 1 – шкив; 2 – шайба; 3 – передняя крышка; 4 – дистанционное кольцо; 5 – ротор;<br>6 – статор; 7 – задняя крышка; 8 – кожух; 9 – выпрямительный блок с конденсатором;<br>10 – щеткодержатель с регулятором напряжения</div>
</body>
</html>
